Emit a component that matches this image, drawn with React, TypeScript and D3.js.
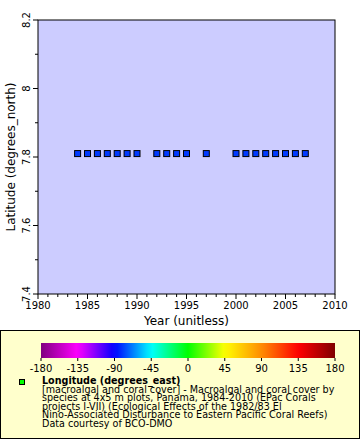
import React from "react";
import * as d3 from "d3";

const years = [1984, 1985, 1986, 1987, 1988, 1989, 1990, 1992, 1993, 1994, 1995, 1997, 2000, 2001, 2002, 2003, 2004, 2005, 2006, 2007];
const latitudes = [7.81, 7.81, 7.81, 7.81, 7.81, 7.81, 7.81, 7.81, 7.81, 7.81, 7.81, 7.81, 7.81, 7.81, 7.81, 7.81, 7.81, 7.81, 7.81, 7.81];
const longitudes = [-79.8, -79.8, -79.8, -79.8, -79.8, -79.8, -79.8, -79.8, -79.8, -79.8, -79.8, -79.8, -79.8, -79.8, -79.8, -79.8, -79.8, -79.8, -79.8, -79.8];
const xTicks = [1980, 1985, 1990, 1995, 2000, 2005, 2010];
const yTicks = [7.4, 7.6, 7.8, 8.0, 8.2];
const yTickLabels = ["7.4", "7.6", "7.8", "8", "8.2"];
const cbStops = [-180, -135, -90, -45, 0, 45, 90, 135, 180];
const cbColors = ["#800080", "#ff00ff", "#0000ff", "#00ffff", "#00ff00", "#ffff00", "#ff8c00", "#ff0000", "#800000"];
const legendLines = [
  "[macroalgal and coral cover] - Macroalgal and coral cover by",
  "species at 4x5 m plots, Panama, 1984-2010 (EPac Corals",
  "projects I-VII) (Ecological Effects of the 1982/83 El",
  "Nino-Associated Disturbance to Eastern Pacific Coral Reefs)",
  "Data courtesy of BCO-DMO",
];

const FONT = "DejaVu Sans, sans-serif";

export default function App() {
  const L = 38, R = 335, T = 20, B = 294;
  const x = d3.scaleLinear().domain([1980, 2010]).range([L, R]);
  const y = d3.scaleLinear().domain([7.4, 8.2]).range([B, T]);
  const color = d3.scaleLinear<string>().domain(cbStops).range(cbColors).interpolate(d3.interpolateRgb);
  const cbX = d3.scaleLinear().domain([-180, 180]).range([41, 335]);
  const minorX = d3.range(1980, 2011, 1);
  const minorY = d3.range(7.4, 8.2001, 0.1);
  const gradStops = d3.range(0, 1.0001, 0.02);

  return (
    <svg width={360} height={440} style={{ position: "absolute", left: 0, top: 0 }} fontFamily={FONT}>
      <defs>
        <linearGradient id="cb" x1="0" x2="1" y1="0" y2="0">
          {gradStops.map((t, i) => (
            <stop key={i} offset={t} stopColor={color(-180 + 360 * t)} />
          ))}
        </linearGradient>
      </defs>
      <rect x={0} y={0} width={360} height={440} fill="#ffffff" />
      <rect x={L} y={T} width={R - L} height={B - T} fill="#ccccff" stroke="#000" strokeWidth={1} />
      {minorX.map((v) => (
        <line key={"mx" + v} x1={x(v)} x2={x(v)} y1={B} y2={B + (v % 5 === 0 ? 5 : 3)} stroke="#000" />
      ))}
      {xTicks.map((v) => (
        <text key={"xt" + v} x={x(v)} y={B + 15} fontSize={10} textAnchor="middle">{v}</text>
      ))}
      {minorY.map((v, i) => (
        <line key={"my" + i} x1={L - (i % 2 === 0 ? 5 : 3)} x2={L} y1={y(v)} y2={y(v)} stroke="#000" />
      ))}
      {yTicks.map((v, i) => (
        <text key={"yt" + i} transform={`translate(${L - 8},${y(v)}) rotate(-90)`} fontSize={10} textAnchor="middle">{yTickLabels[i]}</text>
      ))}
      <text x={(L + R) / 2} y={325} fontSize={12} textAnchor="middle">Year (unitless)</text>
      <text transform={`translate(15,${(T + B) / 2}) rotate(-90)`} fontSize={12} textAnchor="middle">Latitude (degrees_north)</text>
      {years.map((yr, i) => (
        <rect key={"p" + i} x={x(yr) - 3} y={y(latitudes[i]) - 3} width={6} height={6} fill={color(longitudes[i])} stroke="#000" strokeWidth={1} />
      ))}
      <rect x={0.5} y={330.5} width={359} height={108} fill="#ffffcc" stroke="#000" strokeWidth={1} />
      <rect x={41} y={343} width={294} height={15} fill="url(#cb)" />
      {cbStops.map((v) => (
        <g key={"cb" + v}>
          <line x1={cbX(v)} x2={cbX(v)} y1={358} y2={361} stroke="#000" />
          <text x={cbX(v)} y={372} fontSize={10} textAnchor="middle">{v}</text>
        </g>
      ))}
      <rect x={19.5} y={379.5} width={5} height={5} fill="#00ff00" stroke="#000" />
      <text x={42} y={384} fontSize={9.6} fontWeight="bold">Longitude (degrees_east)</text>
      {legendLines.map((s, i) => (
        <text key={"ll" + i} x={42} y={392.6 + i * 8.6} fontSize={9.6}>{s}</text>
      ))}
    </svg>
  );
}
